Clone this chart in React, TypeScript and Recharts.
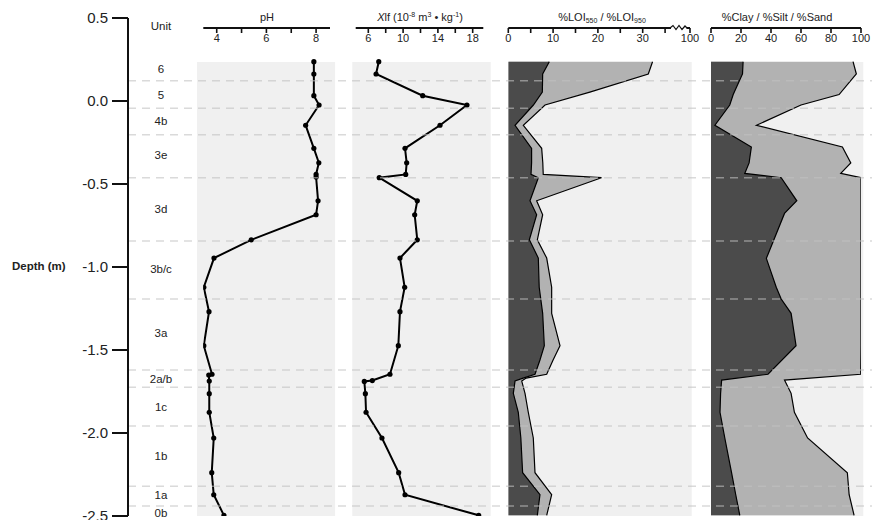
import React from 'react';
import { ComposedChart, Line, Area, XAxis, YAxis, ReferenceArea, ReferenceLine } from 'recharts';

const W = 872;
const H = 520;
const FONT = '"Liberation Sans", Arial, Helvetica, sans-serif';

// depth axis + stratigraphic units
const depthTicks = [0.5, 0, -0.5, -1, -1.5, -2, -2.5];
const unitNames = ['6', '5', '4b', '3e', '3d', '3b/c', '3a', '2a/b', '1c', '1b', '1a', '0b'];
const unitMidDepths = [0.193, 0.036, -0.12, -0.325, -0.651, -1.014, -1.396, -1.677, -1.842, -2.139, -2.373, -2.484];
const unitBoundaries = [0.122, -0.044, -0.203, -0.462, -0.843, -1.193, -1.62, -1.725, -1.958, -2.321, -2.44];

// pH
const phDepths = [0.237, 0.163, 0.032, -0.024, -0.146, -0.285, -0.372, -0.442, -0.458, -0.601, -0.685, -0.836, -0.946, -1.122, -1.269, -1.474, -1.646, -1.651, -1.687, -1.763, -1.875, -2.03, -2.239, -2.372, -2.496];
const phValues = [7.91, 7.91, 7.91, 8.12, 7.58, 7.91, 8.11, 8.0, 8.0, 8.08, 8.0, 5.39, 3.89, 3.48, 3.69, 3.48, 3.81, 3.68, 3.7, 3.7, 3.7, 3.88, 3.8, 3.88, 4.29];

// magnetic susceptibility
const xlfDepths = [0.237, 0.163, 0.032, -0.024, -0.146, -0.285, -0.372, -0.442, -0.462, -0.601, -0.685, -0.836, -0.946, -1.122, -1.269, -1.474, -1.646, -1.684, -1.689, -1.763, -1.875, -2.03, -2.239, -2.372, -2.496];
const xlfValues = [7.2, 6.89, 12.25, 17.34, 14.24, 10.22, 10.41, 10.3, 7.26, 11.63, 11.33, 11.63, 9.64, 10.18, 9.64, 9.45, 8.49, 6.46, 5.54, 5.66, 5.74, 7.57, 9.49, 10.22, 18.69];

// loss on ignition
const loiDepths = [0.237, 0.163, 0.054, -0.024, -0.146, -0.285, -0.372, -0.442, -0.462, -0.601, -0.685, -0.836, -0.946, -1.122, -1.279, -1.474, -1.56, -1.646, -1.669, -1.687, -1.761, -1.875, -2.03, -2.239, -2.372, -2.496];
const loi550 = [9.15, 7.67, 7.6, 5.6, 1.5, 5.2, 5.2, 5.07, 6.7, 4.84, 6.33, 4.7, 6.7, 6.9, 7.67, 8.04, 7.07, 5.96, 3.3, 1.5, 1.12, 2.23, 2.8, 3.2, 7.07, 6.48];
const loi950 = [23.05, 23.58, 10.6, 2.6, 1.85, 2.25, 2.5, 2.73, 14.1, 1.49, 1.34, 1.78, 1.87, 2.78, 2.01, 3.5, 2.93, 2.61, 0.7, 1.5, 2.61, 2.23, 2.78, 2.76, 2.61, 2.09];

// grain size
const grainDepths = [0.237, 0.163, 0.039, -0.024, -0.146, -0.277, -0.373, -0.436, -0.462, -0.601, -0.677, -0.948, -1.122, -1.193, -1.279, -1.474, -1.646, -1.681, -1.761, -1.875, -2.03, -2.239, -2.372, -2.496];
const clay = [21.4, 21.0, 14.8, 12.5, 2.6, 26.9, 25.4, 22.5, 46.8, 57.2, 49.0, 36.9, 43.5, 46.8, 53.4, 56.7, 38.0, 7.1, 6.4, 6.0, 9.2, 13.7, 16.5, 19.2];
const silt = [73.3, 75.9, 70.6, 47.5, 27.7, 60.7, 67.8, 64.0, 53.2, 42.8, 51.0, 63.1, 56.5, 53.2, 46.6, 43.3, 61.8, 41.9, 47.0, 49.6, 55.2, 77.2, 75.6, 76.2];

const phData = phDepths.map((depth, i) => ({ depth, ph: phValues[i] }));
const xlfData = xlfDepths.map((depth, i) => ({ depth, xlf: xlfValues[i] }));
const loiData = loiDepths.map((depth, i) => ({ depth, loi550: loi550[i], loiTotal: loi550[i] + loi950[i] }));
const grainData = grainDepths.map((depth, i) => ({ depth, clay: clay[i], claySilt: clay[i] + silt[i] }));
const unitData = unitNames.map((name, i) => ({ name, depth: unitMidDepths[i] }));

const PANEL_DOMAIN: [number, number] = [-2.5, 0.44];
const DARK = '#4b4b4b';
const MID = '#b2b2b2';
const BG = '#f0f0f0';

type PanelProps = {
  left: number;
  width: number;
  padL: number;
  padR: number;
  domain: [number, number];
  ticks: number[];
  label: (v: number) => string;
  bg: [number, number];
  data: any[];
  children: React.ReactNode;
};

const Panel = ({ left, width, padL, padR, domain, ticks, label, bg, data, children }: PanelProps) => (
  <div style={{ position: 'absolute', left, top: 0 }}>
    <ComposedChart
      layout="vertical"
      width={width}
      height={H}
      data={data}
      margin={{ top: 28, bottom: 4, left: padL, right: padR }}
    >
      <XAxis
        type="number"
        orientation="top"
        mirror
        domain={domain}
        ticks={ticks}
        interval={0}
        allowDataOverflow
        tickFormatter={label}
        tickSize={5}
        tickMargin={1}
        axisLine={{ stroke: '#111', strokeWidth: 2 }}
        tickLine={{ stroke: '#111', strokeWidth: 1.6 }}
        tick={{ fontSize: 11, fill: '#222', fontFamily: FONT }}
      />
      <YAxis type="number" dataKey="depth" domain={PANEL_DOMAIN} reversed hide allowDataOverflow />
      <ReferenceArea
        x1={bg[0]}
        x2={bg[1]}
        y1={-2.5}
        y2={0.235}
        fill={BG}
        fillOpacity={1}
        stroke="none"
        ifOverflow="visible"
      />
      {children}
    </ComposedChart>
  </div>
);

const UnitTick = (props: any) => {
  const { y, payload } = props;
  const name = unitNames[unitMidDepths.indexOf(payload.value)];
  return (
    <text x={161} y={y} dy="0.35em" textAnchor="middle" fontSize={11.5} fill="#222" fontFamily={FONT}>
      {name}
    </text>
  );
};

const title = (x: number, content: React.ReactNode) => (
  <div
    style={{
      position: 'absolute',
      left: x - 100,
      top: 11,
      width: 200,
      textAlign: 'center',
      fontSize: 11,
      lineHeight: '13px',
      color: '#222',
      whiteSpace: 'nowrap',
    }}
  >
    {content}
  </div>
);

const sup = (t: string) => (
  <span style={{ fontSize: 7, position: 'relative', top: -4 }}>{t}</span>
);
const sub = (t: string) => (
  <span style={{ fontSize: 7, position: 'relative', top: 2 }}>{t}</span>
);

export default function App() {
  return (
    <div
      style={{
        position: 'absolute',
        left: 0,
        top: 0,
        width: W,
        height: H,
        background: '#fff',
        fontFamily: FONT,
        overflow: 'hidden',
      }}
    >
      <Panel
        left={190}
        width={150}
        padL={13.3}
        padR={10}
        domain={[3.46, 8.56]}
        ticks={[4, 5, 6, 7, 8]}
        label={(v) => (v % 2 === 0 ? String(v) : '')}
        bg={[3.207, 8.765]}
        data={phData}
      >
        <Line
          dataKey="ph"
          stroke="#000"
          strokeWidth={2}
          dot={{ r: 2.6, fill: '#000', stroke: '#000', strokeWidth: 0 }}
          isAnimationActive={false}
        />
      </Panel>

      <Panel
        left={345}
        width={150}
        padL={10.7}
        padR={11.7}
        domain={[4.55, 19.22]}
        ticks={[6, 8, 10, 12, 14, 16, 18]}
        label={(v) => ([6, 10, 14, 18].includes(v) ? String(v) : '')}
        bg={[4.16, 20.07]}
        data={xlfData}
      >
        <Line
          dataKey="xlf"
          stroke="#000"
          strokeWidth={2}
          dot={{ r: 2.6, fill: '#000', stroke: '#000', strokeWidth: 0 }}
          isAnimationActive={false}
        />
      </Panel>

      <Panel
        left={500}
        width={205}
        padL={8.3}
        padR={15}
        domain={[0, 40.56]}
        ticks={[0, 5, 10, 15, 20, 25, 30, 35, 40.56]}
        label={(v) => (v > 40 ? '100' : v % 10 === 0 ? String(v) : '')}
        bg={[0, 40.94]}
        data={loiData}
      >
        <Area
          type="linear"
          dataKey="loiTotal"
          fill={MID}
          fillOpacity={1}
          stroke="#000"
          strokeWidth={1.2}
          isAnimationActive={false}
        />
        <Area
          type="linear"
          dataKey="loi550"
          fill={DARK}
          fillOpacity={1}
          stroke="#000"
          strokeWidth={1.2}
          isAnimationActive={false}
        />
      </Panel>

      <Panel
        left={703}
        width={169}
        padL={8}
        padR={11}
        domain={[0, 100]}
        ticks={[0, 20, 40, 60, 80, 100]}
        label={(v) => String(v)}
        bg={[0, 101.5]}
        data={grainData}
      >
        <Area
          type="linear"
          dataKey="claySilt"
          fill={MID}
          fillOpacity={1}
          stroke="#000"
          strokeWidth={1.2}
          isAnimationActive={false}
        />
        <Area
          type="linear"
          dataKey="clay"
          fill={DARK}
          fillOpacity={1}
          stroke="#000"
          strokeWidth={1.2}
          isAnimationActive={false}
        />
      </Panel>

      {/* axis break on the LOI scale */}
      <svg style={{ position: 'absolute', left: 0, top: 0 }} width={W} height={40}>
        <rect x={671} y={26.5} width={15.5} height={3} fill="#fff" />
        <polyline
          points="670,28 673,25.5 676,29.5 679,25.5 682,29.5 685,26 687,28"
          fill="none"
          stroke="#111"
          strokeWidth={1.2}
        />
      </svg>

      <div style={{ position: 'absolute', left: 0, top: 0, pointerEvents: 'none' }}>
        <ComposedChart width={W} height={H} data={unitData} margin={{ top: 18, right: 0, bottom: 4, left: 0 }}>
          <XAxis type="category" dataKey="name" hide />
          <YAxis
            yAxisId="depth"
            type="number"
            domain={[-2.5, 0.5]}
            ticks={depthTicks}
            interval={0}
            width={128}
            tickSize={16}
            tickMargin={4}
            allowDataOverflow
            tickFormatter={(v: number) => v.toFixed(1)}
            axisLine={{ stroke: '#111', strokeWidth: 2 }}
            tickLine={{ stroke: '#111', strokeWidth: 2 }}
            tick={{ fontSize: 15, fill: '#222', fontFamily: FONT }}
          />
          <YAxis
            yAxisId="unit"
            type="number"
            domain={[-2.5, 0.5]}
            ticks={unitMidDepths}
            interval={0}
            mirror
            allowDataOverflow
            axisLine={false}
            tickLine={false}
            tick={<UnitTick />}
          />
          <Line
            yAxisId="unit"
            dataKey="depth"
            stroke="none"
            dot={false}
            activeDot={false}
            isAnimationActive={false}
          />
          {unitBoundaries.map((b) => (
            <ReferenceLine
              key={b}
              yAxisId="depth"
              y={b}
              stroke="#c2c2c2"
              strokeOpacity={0.6}
              strokeWidth={1.5}
              strokeDasharray="8 6"
            />
          ))}
        </ComposedChart>
      </div>

      <div style={{ position: 'absolute', left: 141, top: 20, width: 40, textAlign: 'center', fontSize: 11.5, color: '#222' }}>
        Unit
      </div>
      <div style={{ position: 'absolute', left: 12, top: 260, fontSize: 11.5, fontWeight: 'bold', color: '#222' }}>
        Depth (m)
      </div>

      {title(267, 'pH')}
      {title(420, (
        <>
          <i>X</i>lf (10{sup('-8')} m{sup('3')} • kg{sup('-1')})
        </>
      ))}
      {title(602, (
        <>
          %LOI{sub('550')} / %LOI{sub('950')}
        </>
      ))}
      {title(777, '%Clay / %Silt / %Sand')}
    </div>
  );
}
